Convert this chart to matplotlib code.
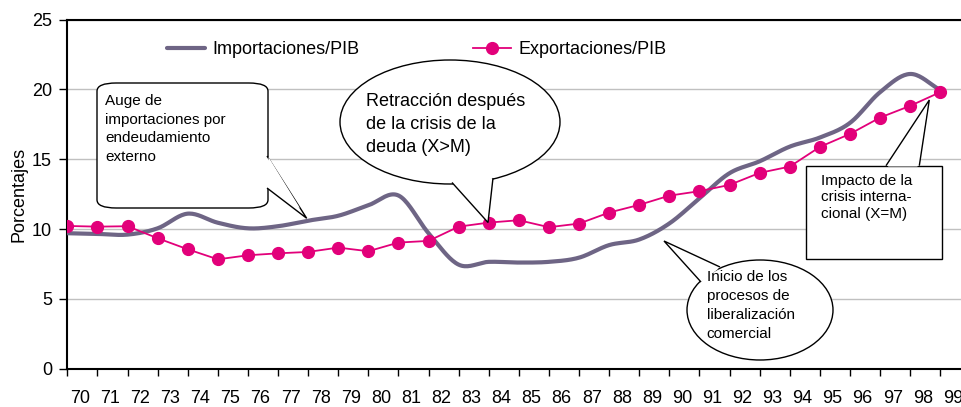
import numpy as np
import matplotlib.pyplot as plt
from matplotlib.patches import Ellipse, FancyBboxPatch, Polygon, Rectangle

plt.rcParams['font.family'] = ['Liberation Sans', 'DejaVu Sans']

# Data (percent of GDP), years 1970-1999
years = ["70", "71", "72", "73", "74", "75", "76", "77", "78", "79",
         "80", "81", "82", "83", "84", "85", "86", "87", "88", "89",
         "90", "91", "92", "93", "94", "95", "96", "97", "98", "99"]
importaciones = [9.7, 9.65, 9.6, 10.05, 11.1, 10.45, 10.05, 10.2, 10.6, 10.95,
                 11.7, 12.4, 9.7, 7.45, 7.65, 7.6, 7.65, 7.95, 8.85, 9.25,
                 10.4, 12.2, 14.0, 14.85, 15.9, 16.55, 17.6, 19.8, 21.1, 19.95]
exportaciones = [10.22, 10.17, 10.2, 9.34, 8.55, 7.83, 8.12, 8.26, 8.36, 8.67,
                 8.41, 9.03, 9.15, 10.17, 10.46, 10.63, 10.13, 10.39, 11.18, 11.73,
                 12.39, 12.71, 13.16, 14.02, 14.47, 15.88, 16.81, 17.98, 18.82, 19.8]

W, H = 962, 407
fig = plt.figure(figsize=(W / 100, H / 100), dpi=100)
ax = fig.add_axes([67.3 / W, (H - 368.7) / H, 1 - 67.3 / W, (368.7 - 19.5) / H])

x = np.arange(len(years))

# smooth line for imports (Excel-like smoothing via Catmull-Rom)
def smooth(xs, ys, n=20):
    xs = np.asarray(xs, float)
    ys = np.asarray(ys, float)
    px = np.concatenate([[2 * xs[0] - xs[1]], xs, [2 * xs[-1] - xs[-2]]])
    py = np.concatenate([[2 * ys[0] - ys[1]], ys, [2 * ys[-1] - ys[-2]]])
    ox, oy = [], []
    t = np.linspace(0, 1, n, endpoint=False)
    for i in range(1, len(px) - 2):
        for p, o in ((px, ox), (py, oy)):
            p0, p1, p2, p3 = p[i - 1], p[i], p[i + 1], p[i + 2]
            o.extend(0.5 * ((2 * p1) + (-p0 + p2) * t
                            + (2 * p0 - 5 * p1 + 4 * p2 - p3) * t ** 2
                            + (-p0 + 3 * p1 - 3 * p2 + p3) * t ** 3))
    ox.append(xs[-1])
    oy.append(ys[-1])
    return ox, oy

sx, sy = smooth(x, importaciones)
ax.plot(sx, sy, color="#6E6585", lw=3.0, solid_capstyle="round",
        label="Importaciones/PIB", zorder=3)
ax.plot(x, exportaciones, color="#E2007A", lw=1.3, marker="o", markersize=8.5,
        label="Exportaciones/PIB", zorder=4)

ax.set_xlim(0, 29.72)
ax.set_ylim(0, 25)
ax.set_yticks([0, 5, 10, 15, 20, 25])
ax.grid(axis="y", color="#c0c0c0", lw=1)
ax.set_axisbelow(True)
ax.set_xticks(x)
ax.set_xticklabels([])
ax.set_xticks(x + 0.42, minor=True)
ax.set_xticklabels(years, minor=True)
ax.tick_params(axis="x", which="major", length=5, direction="out", width=1)
ax.tick_params(axis="x", which="minor", length=0, pad=15, labelsize=13)
ax.tick_params(axis="y", length=6, width=1, labelsize=13, pad=5)
ax.spines["right"].set_visible(False)
for s in ("left", "bottom", "top"):
    ax.spines[s].set_linewidth(1.5)
ax.set_ylabel("Porcentajes", fontsize=13, labelpad=3)

ax.legend(ncol=2, loc="center", frameon=False,
          fontsize=13, handlelength=2.1, handletextpad=0.4, columnspacing=6.3,
          bbox_to_anchor=((417 - 67.3) / (W - 67.3), (368.7 - 50) / (368.7 - 19.5)),
          bbox_transform=ax.transAxes)

# callouts drawn in pixel coordinates (top-left origin)
def P(px, py):
    return (px / W, 1 - py / H)

tf = fig.transFigure
ec = "black"

# 1: rounded rectangle
box = FancyBboxPatch(P(97, 208), 171 / W, 125 / H,
                     boxstyle="round,pad=0,rounding_size=0.02",
                     transform=tf, fc="white", ec=ec, lw=1, zorder=10)
fig.patches.append(box)
fig.patches.append(Polygon([P(267, 156), P(306.7, 218.3), P(267, 188)],
                           closed=False, transform=tf, fc="white", ec=ec, lw=1, zorder=11))
fig.patches.append(Polygon([P(268.5, 157), P(300, 208), P(268.5, 187)],
                           closed=True, transform=tf, fc="white", ec="white", lw=0, zorder=11))
fig.text(105 / W, 1 - 94 / H, "Auge de\nimportaciones por\nendeudamiento\nexterno",
         fontsize=11, va="top", ha="left", linespacing=1.42, zorder=12)

# 2: ellipse "Retracción"
fig.patches.append(Ellipse(P(450, 122), 220 / W, 124 / H, transform=tf,
                           fc="white", ec=ec, lw=1, zorder=10))
fig.patches.append(Polygon([P(452, 182.5), P(488, 222.5), P(493, 178)],
                           closed=False, transform=tf, fc="white", ec=ec, lw=1, zorder=11))
fig.patches.append(Polygon([P(454, 180), P(487, 216), P(491, 176)],
                           closed=True, transform=tf, fc="white", ec="white", lw=0, zorder=11))
fig.text(366 / W, 1 - 93 / H, "Retracción después\nde la crisis de la\ndeuda (X>M)",
         fontsize=13, va="top", ha="left", linespacing=1.45, zorder=12)

# 3: ellipse "Inicio"
fig.patches.append(Ellipse(P(760, 310), 146 / W, 100 / H, transform=tf,
                           fc="white", ec=ec, lw=1, zorder=10))
fig.patches.append(Polygon([P(701, 282), P(664, 241), P(720, 267)],
                           closed=False, transform=tf, fc="white", ec=ec, lw=1, zorder=11))
fig.patches.append(Polygon([P(703, 280), P(672, 246), P(718, 269)],
                           closed=True, transform=tf, fc="white", ec="white", lw=0, zorder=11))
fig.text(706.7 / W, 1 - 270 / H, "Inicio de los\nprocesos de\nliberalización\ncomercial",
         fontsize=11, va="top", ha="left", linespacing=1.45, zorder=12)

# 4: rectangle "Impacto"
fig.patches.append(Rectangle(P(805.7, 259), 136 / W, 93.3 / H, transform=tf,
                             fc="white", ec=ec, lw=1, zorder=10))
fig.patches.append(Polygon([P(886, 165.7), P(929.3, 100), P(919.3, 165.7)],
                           closed=False, transform=tf, fc="white", ec=ec, lw=1, zorder=11))
fig.patches.append(Polygon([P(888, 166.5), P(927, 108), P(917.5, 166.5)],
                           closed=True, transform=tf, fc="white", ec="white", lw=0, zorder=11))
fig.text(820.7 / W, 1 - 174 / H, "Impacto de la\ncrisis interna-\ncional (X=M)",
         fontsize=11, va="top", ha="left", linespacing=1.22, zorder=12)

fig.savefig("out.png", dpi=100)
